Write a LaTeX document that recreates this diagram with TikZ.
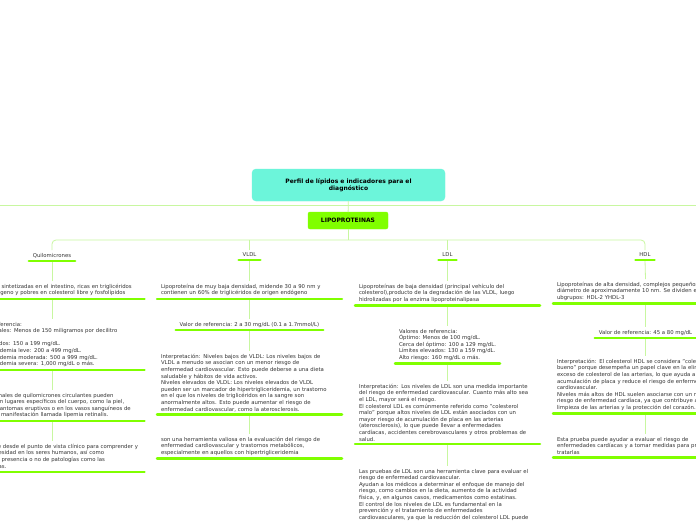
\documentclass[tikz,border=0pt]{standalone}
\usepackage{fontspec}
\setmainfont{DejaVu Sans}
\definecolor{linkgreen}{HTML}{C8F7A0}
\definecolor{ulgreen}{HTML}{80FF00}
\definecolor{titlefill}{HTML}{6CF5DA}
\definecolor{txtgray}{HTML}{333333}
\begin{document}
\begin{tikzpicture}[x=1pt,y=-1pt,every node/.style={outer sep=0pt,text=txtgray},
  topic/.style={font=\fontsize{5.35}{6.6}\selectfont,align=left,inner xsep=4pt,inner ysep=3pt,anchor=north},
  longtopic/.style={topic,text width=177pt},
  link/.style={draw=linkgreen,line width=0.8pt},
  uline/.style={draw=ulgreen,line width=2.5pt,line cap=round}]
\useasboundingbox (0,0) rectangle (696,520);
\clip (0,0) rectangle (696,520);
\fill[white] (0,0) rectangle (696,520);
\coordinate (edgeL) at (0,205);
\coordinate (edgeR) at (696,205);
\coordinate (bus) at (348,240);
\node[draw=titlefill,fill=titlefill,rounded corners=4pt,minimum width=193pt,minimum height=32pt,align=center,text=black,font=\fontsize{6}{7.2}\selectfont\bfseries] (perfil) at (348.5,185) {Perfil de lípidos e indicadores para el\\diagnóstico};
\node[draw=ulgreen,fill=ulgreen,rounded corners=2pt,minimum width=80pt,minimum height=17pt,text=black,font=\fontsize{6}{7.2}\selectfont\bfseries] (lipo) at (348,220.5) {LIPOPROTEINAS};
\node[topic] (quilo) at (52,250) {Quilomicrones};
\node[topic] (vldl) at (249.5,250) {VLDL};
\node[topic] (ldl) at (447.5,250) {LDL};
\node[topic] (hdl) at (645,250) {HDL};
\node[longtopic] (quiloA) at (52,281) {Lipoproteínas sintetizadas en el intestino, ricas en triglicéridos\\de origen exógeno y pobres en colesterol libre y fosfolípidos};
\node[longtopic] (quiloB) at (52,319) {Valores de referencia:\\Valores normales: Menos de 150 miligramos por decilitro\\[6.6pt]Límites elevados: 150 a 199 mg/dL.\\Hipertrigliceridemia leve: 200 a 499 mg/dL.\\Hipertrigliceridemia moderada: 500 a 999 mg/dL.\\Hipertrigliceridemia severa: 1,000 mg/dL o más.};
\node[longtopic] (quiloC) at (52,390) {Niveles anormales de quilomicrones circulantes pueden\\depositarse en lugares específicos del cuerpo, como la piel,\\provocando xantomas eruptivos o en los vasos sanguíneos de\\la retina, una manifestación llamada lipemia retinalis.};
\node[longtopic] (quiloD) at (52,441) {Es importante desde el punto de vista clínico para comprender y\\evaluar la obesidad en los seres humanos, así como\\determinar la presencia o no de patologías como las\\hiperlipidemias.};
\node[longtopic] (vldlA) at (249.5,281) {Lipoproteína de muy baja densidad, midende 30 a 90 nm y\\contienen un 60\% de triglicéridos de origen endógeno};
\node[topic] (vldlB) at (249.5,319) {Valor de referencia: 2 a 30 mg/dL (0.1 a 1.7mmol/L)};
\node[longtopic] (vldlC) at (249.5,351) {Interpretación: Niveles bajos de VLDL: Los niveles bajos de\\VLDL a menudo se asocian con un menor riesgo de\\enfermedad cardiovascular. Esto puede deberse a una dieta\\saludable y hábitos de vida activos.\\Niveles elevados de VLDL: Los niveles elevados de VLDL\\pueden ser un marcador de hipertrigliceridemia, un trastorno\\en el que los niveles de triglicéridos en la sangre son\\anormalmente altos. Esto puede aumentar el riesgo de\\enfermedad cardiovascular, como la aterosclerosis.};
\node[longtopic] (vldlD) at (249.5,434) {son una herramienta valiosa en la evaluación del riesgo de\\enfermedad cardiovascular y trastornos metabólicos,\\especialmente en aquellos con hipertrigliceridemia};
\node[longtopic] (ldlA) at (447.5,281) {Lipoproteínas de baja densidad (principal vehículo del\\colesterol),producto de la degradación de las VLDL, luego\\hidrolizadas por la enzima lipoproteinalipasa};
\node[topic] (ldlB) at (447.5,326) {Valores de referencia:\\Óptimo: Menos de 100 mg/dL.\\Cerca del óptimo: 100 a 129 mg/dL.\\Límites elevados: 130 a 159 mg/dL.\\Alto riesgo: 160 mg/dL o más.};
\node[longtopic] (ldlC) at (447.5,381) {Interpretación: Los niveles de LDL son una medida importante\\del riesgo de enfermedad cardiovascular. Cuanto más alto sea\\el LDL, mayor será el riesgo.\\El colesterol LDL es comúnmente referido como "colesterol\\malo" porque altos niveles de LDL están asociados con un\\mayor riesgo de acumulación de placa en las arterias\\(aterosclerosis), lo que puede llevar a enfermedades\\cardíacas, accidentes cerebrovasculares y otros problemas de\\salud.};
\node[longtopic] (ldlD) at (447.5,466) {Las pruebas de LDL son una herramienta clave para evaluar el\\riesgo de enfermedad cardiovascular.\\Ayudan a los médicos a determinar el enfoque de manejo del\\riesgo, como cambios en la dieta, aumento de la actividad\\física, y, en algunos casos, medicamentos como estatinas.\\El control de los niveles de LDL es fundamental en la\\prevención y el tratamiento de enfermedades\\cardiovasculares, ya que la reducción del colesterol LDL puede};
\node[longtopic] (hdlA) at (645.5,279) {Lipoproteínas de alta densidad, complejos pequeños con un\\diámetro de aproximadamente 10 nm. Se dividen en dos s\\ubgrupos: HDL-2 YHDL-3};
\node[topic] (hdlB) at (645.5,327) {Valor de referencia: 45 a 80 mg/dL};
\node[longtopic] (hdlC) at (645.5,356) {Interpretación: El colesterol HDL se considera "colesterol\\bueno" porque desempeña un papel clave en la eliminación del\\exceso de colesterol de las arterias, lo que ayuda a prevenir la\\acumulación de placa y reduce el riesgo de enfermedad\\cardiovascular.\\Niveles más altos de HDL suelen asociarse con un menor\\riesgo de enfermedad cardíaca, ya que contribuye a la\\limpieza de las arterias y la protección del corazón.};
\node[longtopic] (hdlD) at (645.5,434) {Esta prueba puede ayudar a evaluar el riesgo de\\enfermedades cardíacas y a tomar medidas para prevenirlas o\\tratarlas};
\draw[link] (edgeL) -- (edgeR);
\draw[link] (perfil) -- (lipo);
\draw[link] (lipo) -- (bus);
\draw[link,rounded corners=4pt] (quilo.north) |- (bus) -| (hdl.north);
\draw[link] (vldl.north) -- (vldl.north |- bus);
\draw[link] (ldl.north) -- (ldl.north |- bus);
\draw[link] (quilo.south) -- (quiloA.north);
\draw[link] (quiloA.south) -- (quiloB.north);
\draw[link] (quiloB.south) -- (quiloC.north);
\draw[link] (quiloC.south) -- (quiloD.north);
\draw[link] (vldl.south) -- (vldlA.north);
\draw[link] (vldlA.south) -- (vldlB.north);
\draw[link] (vldlB.south) -- (vldlC.north);
\draw[link] (vldlC.south) -- (vldlD.north);
\draw[link] (ldl.south) -- (ldlA.north);
\draw[link] (ldlA.south) -- (ldlB.north);
\draw[link] (ldlB.south) -- (ldlC.north);
\draw[link] (ldlC.south) -- (ldlD.north);
\draw[link] (hdl.south) -- (hdlA.north);
\draw[link] (hdlA.south) -- (hdlB.north);
\draw[link] (hdlB.south) -- (hdlC.north);
\draw[link] (hdlC.south) -- (hdlD.north);
\draw[uline] (quilo.south west) -- (quilo.south east);
\draw[uline] (vldl.south west) -- (vldl.south east);
\draw[uline] (ldl.south west) -- (ldl.south east);
\draw[uline] (hdl.south west) -- (hdl.south east);
\draw[uline] (quiloA.south west) -- (quiloA.south east);
\draw[uline] (quiloB.south west) -- (quiloB.south east);
\draw[uline] (quiloC.south west) -- (quiloC.south east);
\draw[uline] (quiloD.south west) -- (quiloD.south east);
\draw[uline] (vldlA.south west) -- (vldlA.south east);
\draw[uline] (vldlB.south west) -- (vldlB.south east);
\draw[uline] (vldlC.south west) -- (vldlC.south east);
\draw[uline] (vldlD.south west) -- (vldlD.south east);
\draw[uline] (ldlA.south west) -- (ldlA.south east);
\draw[uline] (ldlB.south west) -- (ldlB.south east);
\draw[uline] (ldlC.south west) -- (ldlC.south east);
\draw[uline] (ldlD.south west) -- (ldlD.south east);
\draw[uline] (hdlA.south west) -- (hdlA.south east);
\draw[uline] (hdlB.south west) -- (hdlB.south east);
\draw[uline] (hdlC.south west) -- (hdlC.south east);
\draw[uline] (hdlD.south west) -- (hdlD.south east);
\end{tikzpicture}
\end{document}
